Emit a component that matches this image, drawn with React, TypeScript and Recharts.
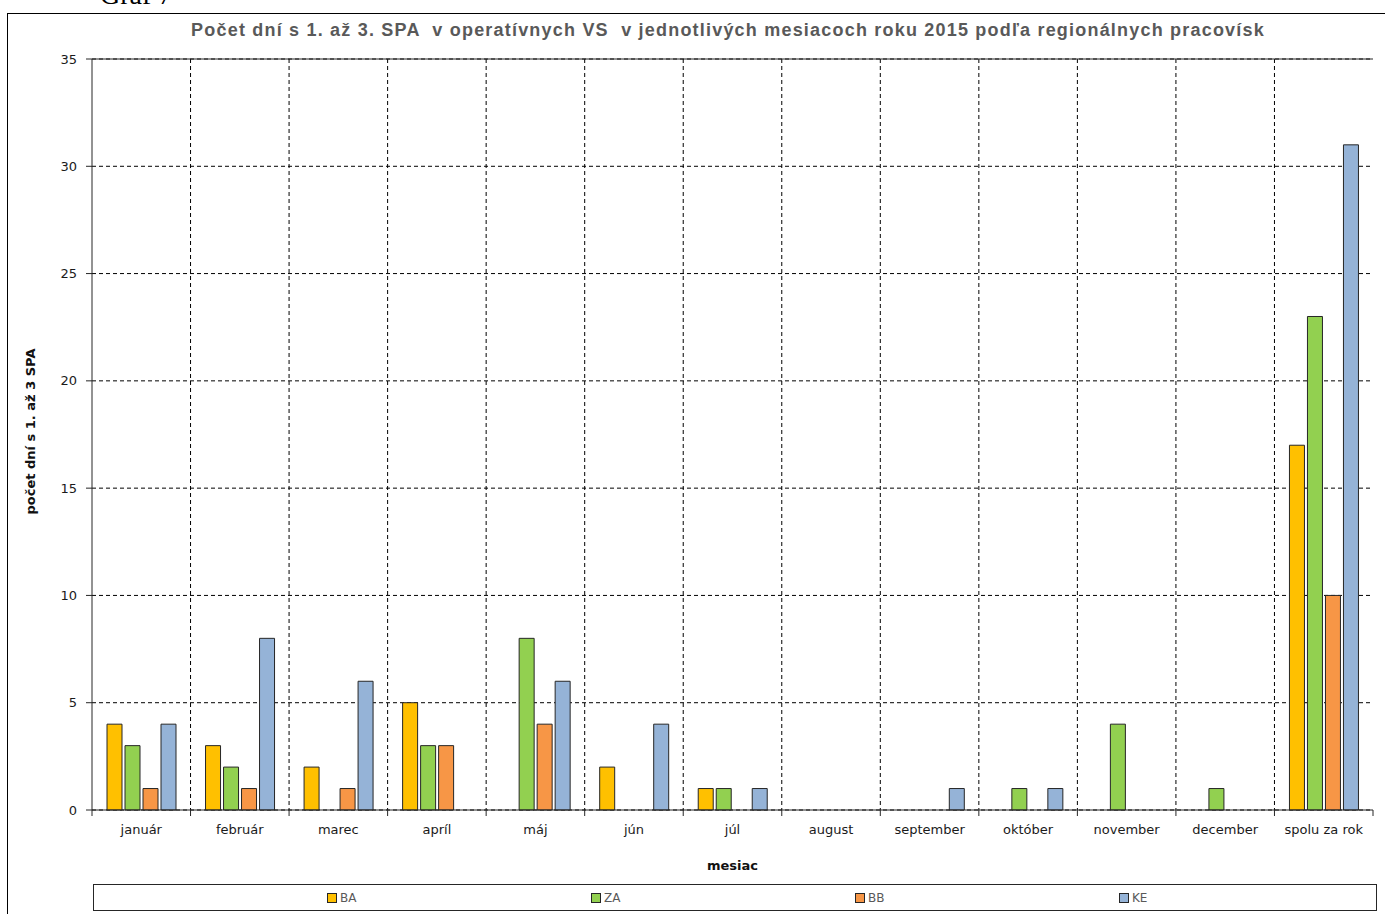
import { Bar, BarChart, CartesianGrid, ReferenceLine, XAxis, YAxis } from 'recharts';

const months = [
  'január', 'február', 'marec', 'apríl', 'máj', 'jún', 'júl',
  'august', 'september', 'október', 'november', 'december', 'spolu za rok',
];
const ba = [4, 3, 2, 5, 0, 2, 1, 0, 0, 0, 0, 0, 17];
const za = [3, 2, 0, 3, 8, 0, 1, 0, 0, 1, 4, 1, 23];
const bb = [1, 1, 1, 3, 4, 0, 0, 0, 0, 0, 0, 0, 10];
const ke = [4, 8, 6, 0, 6, 4, 1, 0, 1, 1, 0, 0, 31];
const yTicks = [0, 5, 10, 15, 20, 25, 30, 35];

const series = [
  { key: 'BA', values: ba, color: '#FFC000' },
  { key: 'ZA', values: za, color: '#92D050' },
  { key: 'BB', values: bb, color: '#F79646' },
  { key: 'KE', values: ke, color: '#95B3D7' },
];

const data = months.map((m, i) => {
  const row: Record<string, string | number> = { month: m };
  series.forEach((s) => (row[s.key] = s.values[i]));
  return row;
});

const W = 1385;
const H = 914;
const margin = { top: 59, right: 12, bottom: 74, left: 0 };
const plotLeft = 92;
const plotWidth = W - plotLeft - margin.right;
const band = plotWidth / months.length;

const ink = '#262626';
const tickFont = '"DejaVu Sans", sans-serif';

function MonthTick(props: any) {
  const { x, y, payload, index } = props;
  const axisY = y - 8;
  const last = index === months.length - 1;
  return (
    <g>
      <line x1={x - band / 2} x2={x - band / 2} y1={axisY} y2={axisY + 6} stroke={ink} />
      {last && <line x1={x + band / 2} x2={x + band / 2} y1={axisY} y2={axisY + 6} stroke={ink} />}
      <text x={x} y={y + 16} textAnchor="middle" fill="#1a1a1a" fontSize={13} fontFamily={tickFont}>
        {payload.value}
      </text>
    </g>
  );
}

function YLabel(props: any) {
  const vb = props.viewBox;
  const cx = 30;
  const cy = vb.y + vb.height / 2 - 3;
  return (
    <text
      x={cx}
      y={cy}
      transform={`rotate(-90 ${cx} ${cy})`}
      textAnchor="middle"
      dominantBaseline="central"
      fontSize={13}
      fontWeight="bold"
      fill="#111"
      fontFamily={tickFont}
    >
      počet dní s 1. až 3 SPA
    </text>
  );
}

function XLabel(props: any) {
  const vb = props.viewBox;
  return (
    <text
      x={vb.x + vb.width / 2}
      y={870}
      textAnchor="middle"
      fontSize={13}
      fontWeight="bold"
      fill="#111"
      fontFamily={tickFont}
    >
      mesiac
    </text>
  );
}

export default function App() {
  return (
    <div style={{ position: 'fixed', left: 0, top: 0, width: W, height: H, overflow: 'hidden', background: '#fff' }}>
      <svg width={300} height={20} style={{ position: 'absolute', left: 0, top: 0 }}>
        <text x={100} y={4} fontSize={28} fontFamily='"Liberation Serif", serif' fill="#000">
          Graf 7
        </text>
      </svg>
      <div
        style={{
          position: 'absolute',
          left: 7,
          top: 13,
          width: 1500,
          height: 1000,
          border: '1px solid #000',
        }}
      />
      <div
        style={{
          position: 'absolute',
          left: 0,
          width: 1456,
          top: 20,
          textAlign: 'center',
          fontFamily: '"Liberation Sans", Arial, sans-serif',
          fontWeight: 'bold',
          fontSize: 18,
          letterSpacing: 1.2,
          color: '#595959',
          whiteSpace: 'pre',
        }}
      >
        Počet dní s 1. až 3. SPA  v operatívnych VS  v jednotlivých mesiacoch roku 2015 podľa regionálnych pracovísk
      </div>
      <div style={{ position: 'absolute', left: 0, top: 0 }}>
        <BarChart width={W} height={H} data={data} margin={margin} barSize={15} barGap={3}>
          <CartesianGrid
            stroke="#000"
            strokeDasharray="4 3"
            verticalCoordinatesGenerator={({ offset }: any) =>
              months.slice(1).map((_, i) => offset.left + ((i + 1) * offset.width) / months.length)
            }
          />
          <XAxis
            dataKey="month"
            height={30}
            axisLine={{ stroke: ink }}
            tickLine={false}
            tick={<MonthTick />}
            interval={0}
            label={<XLabel />}
          />
          <YAxis
            domain={[0, 35]}
            ticks={yTicks}
            width={plotLeft}
            tickSize={6}
            tickMargin={9}
            axisLine={{ stroke: ink }}
            tickLine={{ stroke: ink }}
            tick={{ fill: '#1a1a1a', fontSize: 13, fontFamily: tickFont }}
            label={<YLabel />}
          />
          <YAxis
            yAxisId="right"
            orientation="right"
            domain={[0, 35]}
            width={0}
            tick={false}
            tickLine={false}
            axisLine={{ stroke: ink }}
          />
          <ReferenceLine y={35} stroke={ink} />
          {series.map((s) => (
            <Bar key={s.key} dataKey={s.key} fill={s.color} stroke={ink} strokeWidth={1} isAnimationActive={false} />
          ))}
        </BarChart>
      </div>
      <div
        style={{
          position: 'absolute',
          left: 93,
          top: 884,
          width: 1284,
          height: 27,
          border: `1px solid ${ink}`,
          display: 'flex',
          alignItems: 'center',
          paddingLeft: 233,
          boxSizing: 'border-box',
          fontFamily: tickFont,
          fontSize: 12,
          color: '#595959',
        }}
      >
        {series.map((s) => (
          <div key={s.key} style={{ width: 264, display: 'flex', alignItems: 'center', flex: 'none' }}>
            <span
              style={{
                display: 'inline-block',
                width: 8,
                height: 8,
                background: s.color,
                border: `1px solid ${ink}`,
                marginRight: 3,
              }}
            />
            {s.key}
          </div>
        ))}
      </div>
    </div>
  );
}
